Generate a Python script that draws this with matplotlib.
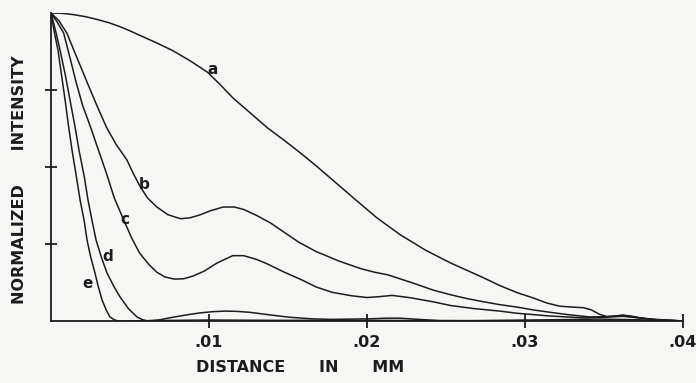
import matplotlib.pyplot as plt

# distance in mm, normalized intensity
a_x = [0, 0.0007, 0.0014, 0.0022, 0.0030, 0.0037, 0.0044, 0.0050, 0.0056, 0.0066, 0.0077,
       0.0088, 0.0099, 0.0107, 0.0115, 0.0126, 0.0137, 0.0148, 0.0158, 0.0168, 0.0180,
       0.0192, 0.0206, 0.0221, 0.0237, 0.0253, 0.0263, 0.0273, 0.0284, 0.0295, 0.0305,
       0.0314, 0.0322, 0.0330, 0.0337, 0.0342, 0.0347, 0.0352, 0.0357, 0.0362, 0.0367,
       0.0373, 0.0380, 0.0390, 0.040]
a_y = [1.0, 0.999, 0.995, 0.988, 0.978, 0.968, 0.955, 0.942, 0.928, 0.905, 0.878,
       0.845, 0.808, 0.768, 0.725, 0.676, 0.627, 0.585, 0.545, 0.503, 0.450,
       0.397, 0.336, 0.280, 0.230, 0.188, 0.165, 0.142, 0.115, 0.092, 0.075,
       0.058, 0.048, 0.045, 0.043, 0.036, 0.022, 0.014, 0.016, 0.019, 0.016,
       0.010, 0.006, 0.003, 0.0]

b_x = [0, 0.0005, 0.0010, 0.0016, 0.0023, 0.0029, 0.0035, 0.0041, 0.0048, 0.0052, 0.0056,
       0.0061, 0.0067, 0.0074, 0.0082, 0.0088, 0.0094, 0.0101, 0.0109, 0.0116, 0.0122,
       0.0130, 0.0139, 0.0147, 0.0157, 0.0168, 0.0182, 0.0196, 0.0205, 0.0213, 0.0228,
       0.0242, 0.0253, 0.0263, 0.0273, 0.0284, 0.0295, 0.0305, 0.0316, 0.0328, 0.0341,
       0.0352, 0.0362, 0.0370, 0.0379, 0.040]
b_y = [1.0, 0.975, 0.935, 0.860, 0.773, 0.700, 0.630, 0.575, 0.523, 0.480, 0.440,
       0.400, 0.370, 0.345, 0.332, 0.335, 0.344, 0.358, 0.370, 0.370, 0.362,
       0.343, 0.318, 0.290, 0.255, 0.225, 0.195, 0.170, 0.158, 0.150, 0.125,
       0.100, 0.085, 0.073, 0.063, 0.053, 0.045, 0.036, 0.028, 0.020, 0.013,
       0.014, 0.018, 0.012, 0.005, 0.0]

c_x = [0, 0.0004, 0.0008, 0.0012, 0.0016, 0.0020, 0.0025, 0.0030, 0.0035, 0.0040, 0.0046,
       0.0051, 0.0056, 0.0062, 0.0067, 0.0072, 0.0078, 0.0084, 0.0090, 0.0097, 0.0105,
       0.0115, 0.0122, 0.0130, 0.0137, 0.0147, 0.0158, 0.0168, 0.0178, 0.0190, 0.0200,
       0.0208, 0.0216, 0.0228, 0.0242, 0.0253, 0.0268, 0.0284, 0.0295, 0.0316, 0.0337,
       0.0350, 0.0362, 0.0372, 0.0385, 0.040]
c_y = [1.0, 0.970, 0.935, 0.855, 0.773, 0.700, 0.630, 0.555, 0.481, 0.400, 0.328,
       0.270, 0.221, 0.183, 0.158, 0.143, 0.136, 0.137, 0.146, 0.162, 0.188,
       0.212, 0.212, 0.200, 0.185, 0.160, 0.135, 0.110, 0.093, 0.082, 0.076,
       0.079, 0.083, 0.075, 0.062, 0.050, 0.040, 0.032, 0.025, 0.016, 0.010,
       0.012, 0.015, 0.010, 0.003, 0.0]

d_x = [0, 0.0003, 0.00057, 0.0009, 0.0012, 0.0015, 0.00177, 0.0021, 0.00234, 0.0026, 0.00285,
       0.0032, 0.00354, 0.0040, 0.00437, 0.0049, 0.00544, 0.0058, 0.00608, 0.0068, 0.0075,
       0.0085, 0.0094, 0.0102, 0.0110, 0.0118, 0.0126, 0.0138, 0.0151, 0.0165, 0.0177,
       0.0190, 0.0202, 0.0212, 0.0221, 0.0233, 0.0246, 0.0265, 0.0284, 0.0320, 0.0347,
       0.0370, 0.040]
d_y = [1.0, 0.940, 0.880, 0.800, 0.718, 0.636, 0.555, 0.470, 0.393, 0.325, 0.263,
       0.205, 0.156, 0.110, 0.078, 0.040, 0.013, 0.004, 0.0, 0.003, 0.010,
       0.019, 0.026, 0.030, 0.032, 0.031, 0.028, 0.020, 0.012, 0.007, 0.005,
       0.006, 0.007, 0.009, 0.009, 0.005, 0.001, 0.001, 0.002, 0.004, 0.006,
       0.004, 0.0]

e_x = [0, 0.0002, 0.00044, 0.00066, 0.00089, 0.0011, 0.00133, 0.0016, 0.00184, 0.0021, 0.00228,
       0.0025, 0.00278, 0.0030, 0.00323, 0.0035, 0.00373, 0.0040, 0.00424, 0.0060, 0.0100,
       0.0140, 0.0200, 0.0300, 0.040]
e_y = [1.0, 0.940, 0.880, 0.800, 0.718, 0.636, 0.555, 0.470, 0.393, 0.325, 0.263,
       0.210, 0.156, 0.110, 0.068, 0.035, 0.013, 0.004, 0.0, 0.001, 0.003,
       0.002, 0.002, 0.0, 0.0]

labels = ["a", "b", "c", "d", "e"]
label_x = [0.0102, 0.0059, 0.0047, 0.0036, 0.0023]
label_y = [0.815, 0.442, 0.328, 0.208, 0.123]

xticks = [0.01, 0.02, 0.03, 0.04]
xticklabels = [".01", ".02", ".03", ".04"]
yticks = [0.25, 0.5, 0.75]

bg = "#f6f6f4"
ink = "#1c1c1c"

fig = plt.figure(figsize=(6.96, 3.83), dpi=100, facecolor=bg)
ax = fig.add_axes([0.0733, 0.162, 0.908, 0.804], facecolor=bg)

for xs, ys in [(a_x, a_y), (b_x, b_y), (c_x, c_y), (d_x, d_y), (e_x, e_y)]:
    ax.plot(xs, ys, color=ink, lw=1.1, solid_joinstyle="round")

for t, lx, ly in zip(labels, label_x, label_y):
    ax.text(lx, ly, t, fontsize=11, fontweight="bold", color=ink, ha="center", va="center")

ax.set_xlim(0, 0.04)
ax.set_ylim(0, 1)
ax.spines["top"].set_visible(False)
ax.spines["right"].set_visible(False)
for s in ["left", "bottom"]:
    ax.spines[s].set_color(ink)
    ax.spines[s].set_linewidth(1.3)

ax.set_xticks(xticks)
ax.set_xticklabels(xticklabels, fontsize=11.5, fontweight="bold", color=ink)
ax.set_yticks(yticks)
ax.set_yticklabels([])
ax.tick_params(axis="x", direction="inout", length=10, width=1.3, color=ink, pad=5)
ax.tick_params(axis="y", direction="inout", length=9, width=1.3, color=ink)

fig.text(0.431, 0.021, "DISTANCE      IN      MM", fontsize=11.5, fontweight="bold",
         color=ink, ha="center", va="bottom")
fig.text(0.028, 0.53, "NORMALIZED      INTENSITY", fontsize=11.5, fontweight="bold",
         color=ink, ha="center", va="center", rotation=90)

fig.savefig("out.png", dpi=100, facecolor=bg)
